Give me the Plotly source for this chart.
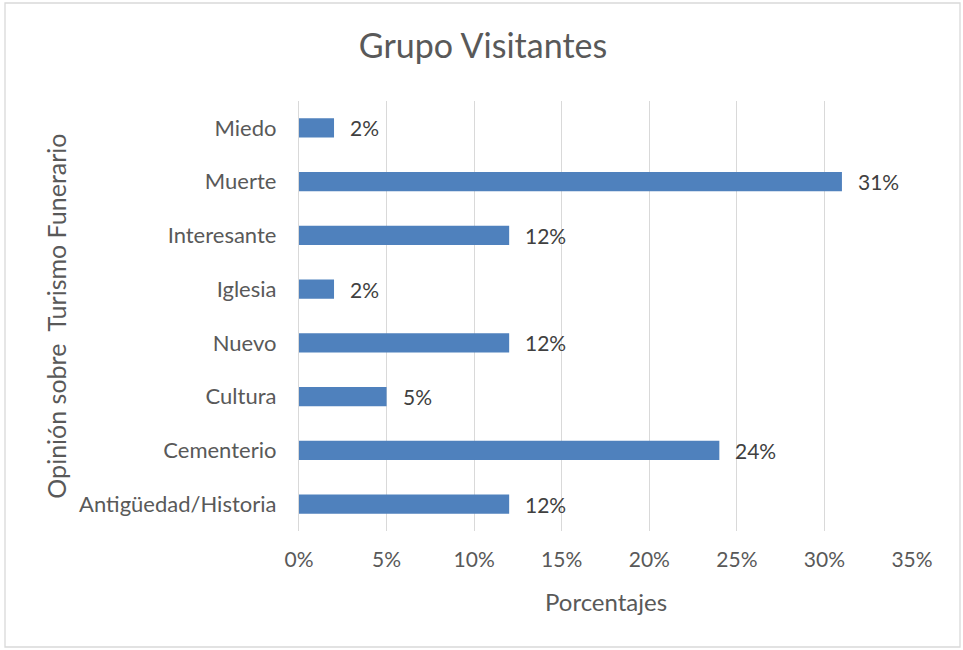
import plotly.graph_objects as go

categorias = ["Antigüedad/Historia", "Cementerio", "Cultura", "Nuevo",
              "Iglesia", "Interesante", "Muerte", "Miedo"]
porcentajes = [12, 24, 5, 12, 2, 12, 31, 2]
ticks_x = [0, 5, 10, 15, 20, 25, 30, 35]
etiquetas_x = ["0%", "5%", "10%", "15%", "20%", "25%", "30%", "35%"]

gris = "#595959"
fuente = "Lato"

fig = go.Figure(go.Bar(
    x=porcentajes,
    y=categorias,
    orientation="h",
    width=0.36,
    marker=dict(color="#4F81BD", line=dict(width=0)),
    hoverinfo="skip",
))

# etiquetas de datos a la derecha de cada barra
for c, v in zip(categorias, porcentajes):
    fig.add_annotation(x=v, y=c, text=f"{v}%", xanchor="left", xshift=14,
                       showarrow=False, font=dict(size=21, color="#404040", family=fuente))

fig.update_layout(
    width=963, height=650,
    margin=dict(l=299, r=51, t=101, b=119),
    paper_bgcolor="white", plot_bgcolor="white",
    showlegend=False,
    font=dict(family=fuente, color=gris, size=21),
    title=dict(text="Grupo Visitantes", x=0.5016, xref="container", xanchor="center",
               y=0.929, yref="container", yanchor="middle",
               font=dict(size=34, color=gris, family=fuente)),
    xaxis=dict(range=[0, 35], tickvals=ticks_x, ticktext=etiquetas_x,
               showgrid=True, gridcolor="#D9D9D9", gridwidth=1.3,
               zeroline=False, showline=False, ticks="", ticklabelstandoff=14,
               tickfont=dict(size=21, color=gris)),
    yaxis=dict(categoryorder="array", categoryarray=categorias,
               range=[-0.5, len(categorias) - 0.5],
               showgrid=False, zeroline=False, showline=True, linecolor="#D9D9D9",
               linewidth=1.3, ticks="", ticklabelstandoff=17,
               tickfont=dict(size=22, color=gris)),
)

fig.add_annotation(text="Porcentajes", xref="paper", yref="paper", x=0.5, y=-0.165,
                   xanchor="center", yanchor="middle", showarrow=False,
                   font=dict(size=24, color=gris))
fig.add_annotation(text="Opinión sobre  Turismo Funerario", xref="paper", yref="paper",
                   x=-0.397, y=0.5, textangle=-90, xanchor="center", yanchor="middle",
                   showarrow=False, font=dict(size=25, color=gris))

# marco del gráfico
fig.add_shape(type="rect", xref="paper", yref="paper",
              x0=-0.4796, x1=1.0783, y0=-0.2698, y1=1.2279,
              line=dict(color="#D9D9D9", width=1.3), fillcolor="rgba(0,0,0,0)")

# el body trae margen por defecto; se quita para que el gráfico quede en 0,0
fig.write_html("out.html", config={"displayModeBar": False},
               post_script="document.body.style.margin='0';")
